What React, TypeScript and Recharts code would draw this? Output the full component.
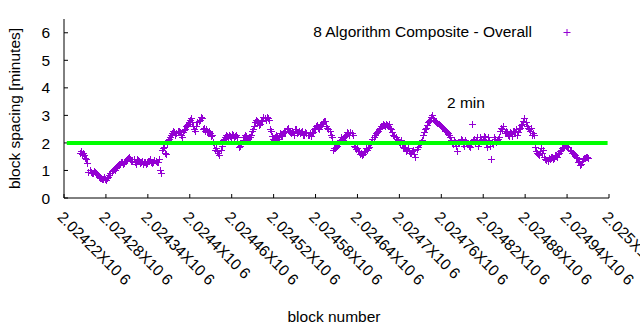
import React from 'react';
import { ScatterChart, Scatter, XAxis, YAxis } from 'recharts';

const START_BLOCK = 2024243;
const BLOCK_STEP = 3;
const START_BLOCK_B = 2024244.5;

const spacingValues: number[] = [
  1.65, 1.6, 1.55, 1.4, 0.95, 0.95, 0.92, 0.95, 0.88, 0.78,
  0.72, 0.7, 0.68, 0.72, 0.85, 0.98, 1.05, 1.1, 1.2, 1.25,
  1.3, 1.28, 1.35, 1.45, 1.4, 1.35, 1.3, 1.4, 1.35, 1.3,
  1.25, 1.3, 1.28, 1.35, 1.3, 1.32, 1.35, 1.3, 1.0, 1.75,
  1.85, 1.6, 2.1, 2.2, 2.35, 2.4, 2.35, 2.45, 2.3, 2.4,
  2.5, 2.65, 2.75, 2.9, 2.6, 2.45, 2.75, 2.85, 2.9, 2.55,
  2.5, 2.4, 2.35, 2.3, 1.95, 1.8, 1.65, 1.75, 2.1, 2.2,
  2.25, 2.3, 2.2, 2.3, 2.25, 2.2, 1.85, 2.0, 2.2, 2.25,
  2.15, 2.2, 2.45, 2.6, 2.85, 2.75, 2.7, 2.85, 2.9, 2.95,
  2.85, 2.45, 2.15, 2.2, 2.25, 2.2, 2.3, 2.35, 2.4, 2.55,
  2.4, 2.45, 2.3, 2.5, 2.4, 2.35, 2.45, 2.3, 2.35, 2.3,
  2.25, 2.4, 2.55, 2.65, 2.5, 2.7, 2.75, 2.8, 2.55, 2.45,
  2.2, 1.8, 1.85, 1.95, 2.1, 2.15, 2.2, 2.3, 2.35, 2.4,
  2.3, 1.85, 1.8, 1.7, 1.65, 1.6, 1.7, 1.75, 1.85, 2.05,
  2.2, 2.35, 2.45, 2.55, 2.6, 2.65, 2.7, 2.6, 2.55, 2.4,
  2.25, 2.15, 2.05, 2.1, 1.85, 1.8, 1.75, 1.7, 1.65, 1.75,
  1.5, 1.85, 2.0, 2.1, 2.4, 2.55, 2.75, 2.85, 3.0, 2.85,
  2.75, 2.7, 2.6, 2.55, 2.45, 2.4, 2.3, 2.1, 1.95, 2.05,
  1.7, 2.0, 2.1, 1.9, 2.05, 1.95, 1.85, 2.7, 2.15, 2.1,
  1.9, 2.2, 2.15, 2.2, 1.85, 2.1, 1.4, 1.95, 2.15, 2.1,
  2.2, 2.55, 2.6, 2.45, 2.3, 2.4, 2.25, 2.45, 2.5, 2.4,
  2.55, 2.7, 2.9, 2.6, 2.5, 2.55, 2.35, 1.85, 1.65, 1.55,
  1.8, 1.75, 1.4, 1.35, 1.4, 1.5, 1.45, 1.55, 1.6, 1.7,
  1.8, 1.85, 1.9, 1.85, 1.7, 1.65, 1.55, 1.45, 1.35, 1.25,
  1.4, 1.45, 1.5,
];

const spacingValuesB: number[] = [
  1.7, 1.62, 1.45, 1.27, 1.0, 0.9, 0.97, 0.9, 0.82, 0.74,
  0.68, 0.75, 0.65, 0.78, 0.92, 1.02, 1.0, 1.15, 1.24, 1.3,
  1.22, 1.33, 1.42, 1.5, 1.33, 1.4, 1.25, 1.38, 1.28, 1.36,
  1.3, 1.24, 1.33, 1.4, 1.26, 1.38, 1.3, 1.4, 0.9, 1.8,
  1.65, 1.95, 2.15, 2.3, 2.42, 2.3, 2.45, 2.38, 2.2, 2.48,
  2.6, 2.7, 2.85, 2.75, 2.5, 2.6, 2.8, 2.95, 2.5, 2.45,
  2.38, 2.45, 2.25, 2.05, 1.75, 1.7, 1.55, 1.9, 2.15, 2.28,
  2.2, 2.25, 2.32, 2.18, 2.28, 1.95, 1.9, 2.1, 2.3, 2.18,
  2.22, 2.3, 2.5, 2.75, 2.8, 2.65, 2.8, 2.95, 2.85, 2.9,
  2.5, 2.25, 2.1, 2.28, 2.15, 2.35, 2.25, 2.45, 2.5, 2.45,
  2.35, 2.4, 2.5, 2.35, 2.45, 2.4, 2.3, 2.4, 2.28, 2.35,
  2.35, 2.5, 2.6, 2.55, 2.65, 2.7, 2.8, 2.6, 2.5, 2.3,
  1.75, 1.8, 1.9, 2.05, 2.2, 2.1, 2.25, 2.38, 2.3, 2.35,
  1.9, 1.78, 1.72, 1.6, 1.55, 1.68, 1.8, 1.8, 1.95, 2.15,
  2.28, 2.4, 2.5, 2.6, 2.7, 2.6, 2.65, 2.68, 2.5, 2.3,
  2.2, 2.1, 2.0, 1.95, 1.8, 1.72, 1.8, 1.62, 1.7, 1.6,
  1.78, 1.95, 2.05, 2.3, 2.5, 2.65, 2.8, 2.95, 2.9, 2.78,
  2.72, 2.65, 2.58, 2.5, 2.42, 2.35, 2.2, 2.0, 2.1, 1.9,
  2.05, 2.15, 1.95, 2.1, 2.0, 1.9, 2.05, 2.1, 2.0, 2.2,
  2.05, 2.1, 2.25, 2.0, 2.2, 1.9, 2.05, 2.2, 2.05, 2.15,
  2.45, 2.5, 2.35, 2.4, 2.25, 2.35, 2.45, 2.4, 2.3, 2.5,
  2.65, 2.8, 2.75, 2.55, 2.45, 2.3, 2.3, 1.7, 1.6, 1.7,
  1.65, 1.5, 1.38, 1.45, 1.48, 1.4, 1.55, 1.5, 1.65, 1.75,
  1.85, 1.92, 1.85, 1.75, 1.62, 1.6, 1.5, 1.3, 1.2, 1.35,
  1.45, 1.5, 1.45,
];

const xTicks = [2024220, 2024280, 2024340, 2024400, 2024460, 2024520, 2024580, 2024640, 2024700, 2024760, 2024820, 2024880, 2024940, 2025000];
const xTickLabels = ['2.02422', '2.02428', '2.02434', '2.0244', '2.02446', '2.02452', '2.02458', '2.02464', '2.0247', '2.02476', '2.02482', '2.02488', '2.02494', '2.025'];
const yTicks = [0, 1, 2, 3, 4, 5, 6];
const targetLine = [
  { block: 2024224, value: 2 },
  { block: 2024998, value: 2 },
];
const seriesName = '8 Algorithm Composite - Overall';
const targetLabel = '2 min';
const xAxisTitle = 'block number';
const yAxisTitle = 'block spacing [minutes]';

const points = [
  ...spacingValues.map((v, i) => ({ block: START_BLOCK + i * BLOCK_STEP, value: v })),
  ...spacingValuesB.map((v, i) => ({ block: START_BLOCK_B + i * BLOCK_STEP, value: v })),
];

const FONT = '"Liberation Sans", Arial, sans-serif';
const FS = 15.5;
const PURPLE = '#9400D3';

const PlusShape = (props: any) => {
  const { cx, cy } = props;
  if (cx == null || cy == null || isNaN(cx) || isNaN(cy)) return <g />;
  const x = Math.round(cx) + 0.5;
  const y = Math.round(cy) + 0.5;
  return (
    <path
      d={`M${x - 3.5},${y}H${x + 3.5}M${x},${y - 3.5}V${y + 3.5}`}
      stroke={PURPLE}
      strokeWidth={1}
      fill="none"
    />
  );
};

const NoShape = () => <g />;

const XTick = (props: any) => {
  const { x, y, payload } = props;
  const idx = xTicks.indexOf(payload.value);
  const label = idx >= 0 ? xTickLabels[idx] : String(payload.value);
  return (
    <text
      transform={`translate(${x - 7.6},${y + 24}) rotate(45)`}
      fontFamily={FONT}
      fontSize={FS}
      fill="#000"
      textAnchor="start"
    >
      {label}X10
      <tspan dx={4}>6</tspan>
    </text>
  );
};

const YTick = (props: any) => {
  const { x, y, payload } = props;
  return (
    <text x={x - 18} y={y} dy="0.36em" textAnchor="end" fontFamily={FONT} fontSize={FS} fill="#000">
      {payload.value}
    </text>
  );
};

export default function App() {
  return (
    <div style={{ position: 'absolute', left: 0, top: 0, width: 640, height: 330, background: '#fff' }}>
      <ScatterChart width={640} height={330} margin={{ top: 19, right: 31, bottom: 0, left: 0 }}>
        <XAxis
          dataKey="block"
          type="number"
          domain={[2024220, 2025000]}
          ticks={xTicks}
          interval={0}
          allowDataOverflow
          height={132}
          tickSize={-4}
          tickMargin={0}
          tick={<XTick />}
          axisLine={{ stroke: '#000', strokeWidth: 1 }}
          tickLine={{ stroke: '#000', strokeWidth: 1 }}
        />
        <XAxis
          xAxisId="top"
          orientation="top"
          type="number"
          domain={[2024220, 2025000]}
          allowDataOverflow
          height={0}
          tick={false}
          tickLine={false}
          axisLine={{ stroke: '#000', strokeWidth: 1 }}
        />
        <YAxis
          dataKey="value"
          type="number"
          domain={[0, 6.5]}
          ticks={yTicks}
          interval={0}
          allowDataOverflow
          width={64}
          tickSize={-4}
          tickMargin={0}
          tick={<YTick />}
          axisLine={{ stroke: '#000', strokeWidth: 1 }}
          tickLine={{ stroke: '#000', strokeWidth: 1 }}
        />
        <YAxis
          yAxisId="right"
          orientation="right"
          type="number"
          domain={[0, 6.5]}
          ticks={yTicks}
          interval={0}
          allowDataOverflow
          width={0}
          tickSize={-4}
          tick={false}
          axisLine={{ stroke: '#000', strokeWidth: 1 }}
          tickLine={{ stroke: '#000', strokeWidth: 1 }}
        />
        <Scatter
          name={seriesName}
          data={points}
          dataKey="value"
          shape={<PlusShape />}
          isAnimationActive={false}
        />
        <Scatter
          data={targetLine}
          dataKey="value"
          line={{ stroke: '#00FF00', strokeWidth: 4 }}
          shape={<NoShape />}
          isAnimationActive={false}
        />
      </ScatterChart>
      <svg
        width={640}
        height={330}
        style={{ position: 'absolute', left: 0, top: 0, pointerEvents: 'none' }}
      >
        <text x={532} y={37.3} textAnchor="end" fontFamily={FONT} fontSize={FS} fill="#000">
          {seriesName}
        </text>
        <path d="M563.5,32.5H570.5M567,29V36" stroke={PURPLE} strokeWidth={1} fill="none" />
        <text x={447} y={107.5} textAnchor="start" fontFamily={FONT} fontSize={FS} fill="#000">
          {targetLabel}
        </text>
        <text x={334} y={321.5} textAnchor="middle" fontFamily={FONT} fontSize={FS} fill="#000">
          {xAxisTitle}
        </text>
        <text
          transform="translate(19.5,108.5) rotate(-90)"
          textAnchor="middle"
          fontFamily={FONT}
          fontSize={FS}
          fill="#000"
        >
          {yAxisTitle}
        </text>
      </svg>
    </div>
  );
}
